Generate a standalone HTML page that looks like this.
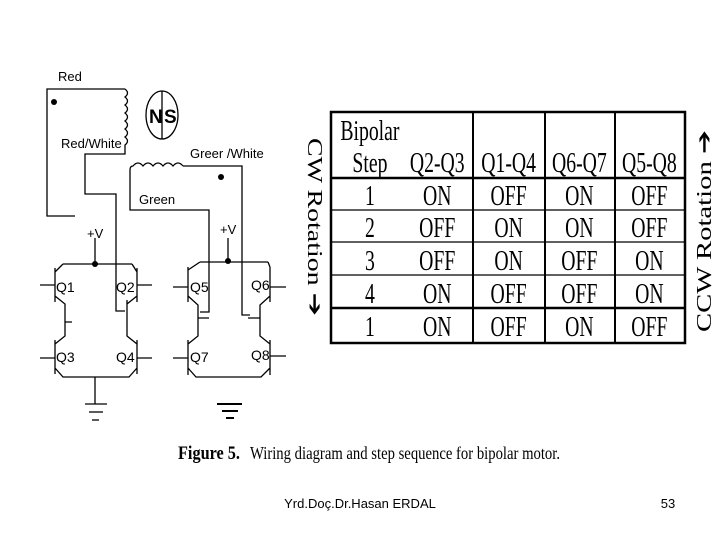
<!DOCTYPE html>
<html><head><meta charset="utf-8"><style>
body{margin:0;background:#fff;width:720px;height:540px;overflow:hidden;position:relative;font-family:"Liberation Sans",sans-serif}
</style></head><body>
<svg width="720" height="540" style="position:absolute;left:0;top:0" font-family="Liberation Sans" font-size="13">
<g stroke="#000" stroke-width="1.3" fill="none">
<path d="M125,89 H47 V216 H75"/>
<path d="M125,89 q5,4 0,8 q5,4 0,8 q5,4 0,8 q5,4 0,8 q5,4 0,8 q5,4 0,8 q5,4 0,8 V154 H85 V194 H116 V311 H125"/>
<path d="M183,166 q-5,-6 -10,0 q-5,-6 -10,0 q-5,-6 -10,0 q-5,-6 -10,0 q-5,-6 -10,0 q-3,0 -3,4 V210 H209 V312 H200"/>
<path d="M183,166 H242 V315 H250"/>
<ellipse cx="162" cy="115" rx="16" ry="24"/>
<line x1="162" y1="91" x2="162" y2="139"/>
<line x1="95" y1="238" x2="95" y2="264"/>
<line x1="228" y1="238" x2="228" y2="262"/>
<path d="M63,264 H132 M200,262 H268"/>
<path d="M63,264 L55,272 M55,268 V302 M55,285 H40 M55,296 L65,304 V318 M65,322 H72 M65,318 V336 L55,344 M55,340 V374 M55,358 H40 M55,368 L63,377 H129 L137,368 M137,340 V374 M137,358 H152 M137,344 L127,336 V300 M132,264 L137,272 M137,268 V302 M137,285 H152 M137,296 L127,304"/>
<line x1="95" y1="377" x2="95" y2="404"/>
<line x1="85" y1="404" x2="107" y2="404"/><line x1="89" y1="412" x2="103" y2="412"/><line x1="92" y1="420" x2="99" y2="420"/>
<path d="M200,262 L188,270 M188,267 V302 M188,287 H173 M188,296 L198,305 V318 M198,318 H209 M198,318 V336 L188,344 M188,340 V375 M188,358 H173 M188,368 L196,377 H261 L270,368 M270,340 V375 M270,356 H286 M270,344 L260,336 V318 H248 M260,318 V305 L270,296 M270,267 V302 M270,287 H286 M268,262 L270,267"/>
<line x1="217" y1="404" x2="242" y2="404" stroke-width="2"/><line x1="222" y1="411" x2="238" y2="411" stroke-width="2"/><line x1="226" y1="418" x2="234" y2="418" stroke-width="2"/>
</g>
<g fill="#000">
<circle cx="54" cy="102" r="3"/><circle cx="221" cy="177" r="3"/>
<circle cx="95" cy="264" r="3"/><circle cx="228" cy="261" r="3"/>
</g>
<g fill="#000" stroke="none">
<text x="58" y="81">Red</text><text x="61" y="148">Red/White</text>
<text x="190" y="158">Greer /White</text><text x="139" y="204">Green</text>
<text x="87" y="238">+V</text><text x="220" y="234">+V</text>
<text x="56" y="292" font-size="14">Q1</text><text x="116" y="292" font-size="14">Q2</text>
<text x="56" y="362" font-size="14">Q3</text><text x="116" y="362" font-size="14">Q4</text>
<text x="190" y="292" font-size="14">Q5</text><text x="251" y="290" font-size="14">Q6</text>
<text x="190" y="362" font-size="14">Q7</text><text x="251" y="360" font-size="14">Q8</text>
<text x="149" y="123" font-size="19" font-weight="bold">N</text><text x="164" y="123" font-size="19" font-weight="bold">S</text>
</g>
<g stroke="#000" fill="none">
<rect x="331" y="112" width="354" height="231" stroke-width="2.5"/>
<line x1="473" y1="112" x2="473" y2="343" stroke-width="2"/>
<line x1="545" y1="112" x2="545" y2="343" stroke-width="2"/>
<line x1="615" y1="112" x2="615" y2="343" stroke-width="2"/>
<line x1="331" y1="178" x2="685" y2="178" stroke-width="2.5"/>
<line x1="331" y1="210" x2="685" y2="210" stroke-width="1.2"/>
<line x1="331" y1="242" x2="685" y2="242" stroke-width="1.2"/>
<line x1="331" y1="275" x2="685" y2="275" stroke-width="1.2"/>
<line x1="331" y1="308" x2="685" y2="308" stroke-width="2.5"/>
</g>
<g font-family="Liberation Serif" font-size="29" text-anchor="middle" fill="#000" transform="scale(0.68,1)">
<text x="544" y="140">Bipolar</text><text x="544" y="172">Step</text>
<text x="643" y="172">Q2-Q3</text><text x="748" y="172">Q1-Q4</text><text x="852" y="172">Q6-Q7</text><text x="955" y="172">Q5-Q8</text>
<text x="544" y="205">1</text><text x="643" y="205">ON</text><text x="748" y="205">OFF</text><text x="852" y="205">ON</text><text x="955" y="205">OFF</text>
<text x="544" y="237">2</text><text x="643" y="237">OFF</text><text x="748" y="237">ON</text><text x="852" y="237">ON</text><text x="955" y="237">OFF</text>
<text x="544" y="270">3</text><text x="643" y="270">OFF</text><text x="748" y="270">ON</text><text x="852" y="270">OFF</text><text x="955" y="270">ON</text>
<text x="544" y="303">4</text><text x="643" y="303">ON</text><text x="748" y="303">OFF</text><text x="852" y="303">OFF</text><text x="955" y="303">ON</text>
<text x="544" y="336">1</text><text x="643" y="336">ON</text><text x="748" y="336">OFF</text><text x="852" y="336">ON</text><text x="955" y="336">OFF</text>
</g>
<text transform="translate(308,138) rotate(90)" font-family="Liberation Serif" font-size="21" fill="#000" textLength="178" lengthAdjust="spacingAndGlyphs">CW Rotation ➔</text>
<text transform="translate(711,332) rotate(-90)" font-family="Liberation Serif" font-size="21" fill="#000" textLength="202" lengthAdjust="spacingAndGlyphs">CCW Rotation ➔</text>
<text x="178" y="459" font-family="Liberation Serif" font-size="19" font-weight="bold" fill="#000" textLength="62" lengthAdjust="spacingAndGlyphs">Figure 5.</text>
<text x="250" y="459" font-family="Liberation Serif" font-size="18" fill="#000" textLength="310" lengthAdjust="spacingAndGlyphs">Wiring diagram and step sequence for bipolar motor.</text>
<text x="360" y="508" font-size="13" text-anchor="middle" fill="#000">Yrd.Doç.Dr.Hasan ERDAL</text>
<text x="668" y="508" font-size="13" text-anchor="middle" fill="#000">53</text>
</svg>
</body></html>
